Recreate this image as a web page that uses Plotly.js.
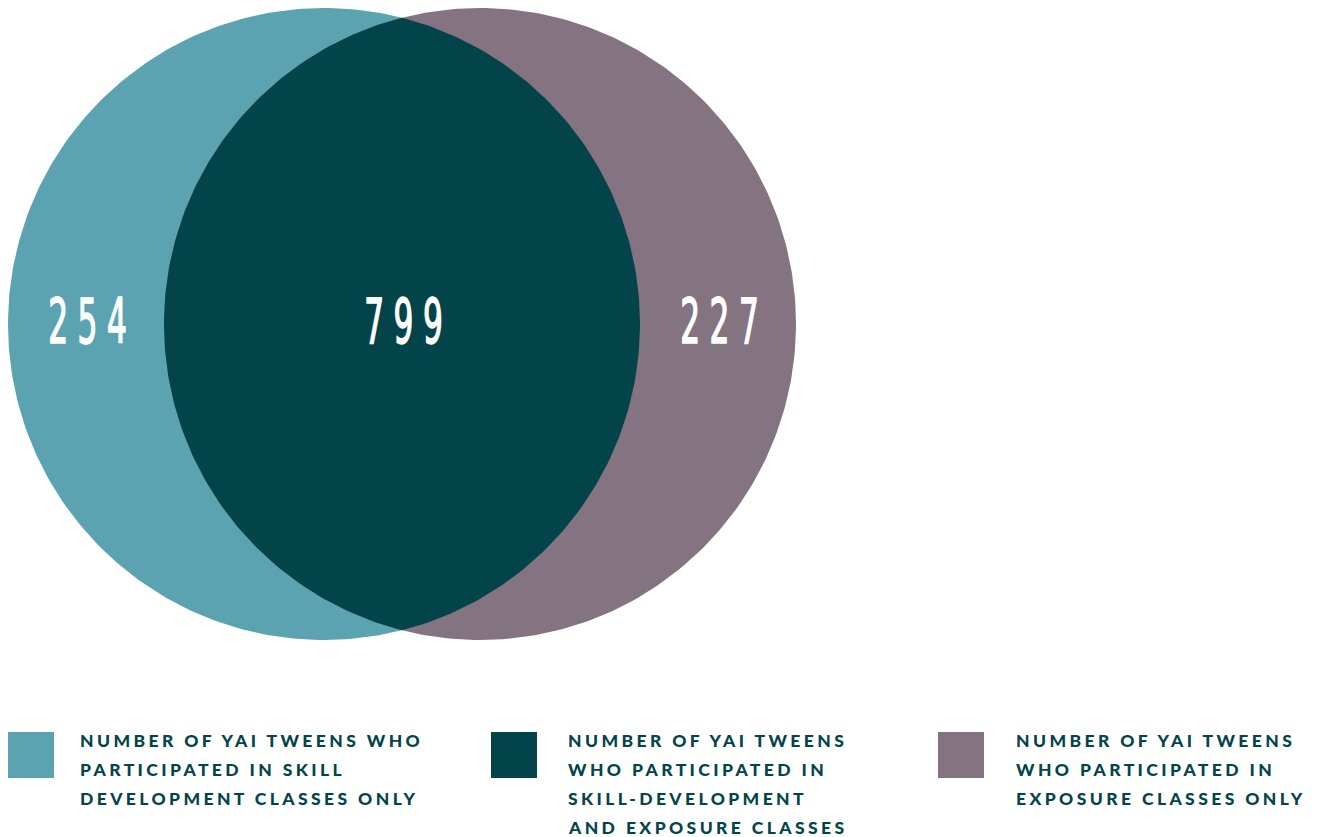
<!DOCTYPE html>
<html>
<head>
<meta charset="utf-8">
<script src="https://cdn.plot.ly/plotly-3.0.1.min.js"></script>
<style>
html,body{margin:0;padding:0;background:#fff;overflow:hidden;}
#chart{width:1322px;height:837px;}
</style>
</head>
<body>
<div id="chart"></div>
<script>
// ---- data ----
const categories = ["Skill development only", "Both", "Exposure only"];
const counts = [254, 799, 227];
const colors = ["#5BA3B0", "#02444A", "#847380"];
const legendLines = [
  ["NUMBER OF YAI TWEENS WHO", "PARTICIPATED IN SKILL", "DEVELOPMENT CLASSES ONLY"],
  ["NUMBER OF YAI TWEENS", "WHO PARTICIPATED IN", "SKILL-DEVELOPMENT", "AND EXPOSURE CLASSES"],
  ["NUMBER OF YAI TWEENS", "WHO PARTICIPATED IN", "EXPOSURE CLASSES ONLY"]
];

// ---- layout geometry (pixel-like units) ----
const R = 316, CY = 324, C1 = 324, C2 = 480;
const N = 360;

function arc(cx, cy, r, a0, a1, n) {
  const xs = [], ys = [];
  for (let i = 0; i <= n; i++) {
    const a = a0 + (a1 - a0) * i / n;
    xs.push(cx + r * Math.cos(a));
    ys.push(cy - r * Math.sin(a));
  }
  return {xs, ys};
}
const full1 = arc(C1, CY, R, 0, 2 * Math.PI, N);
const full2 = arc(C2, CY, R, 0, 2 * Math.PI, N);
const th = Math.acos(((C2 - C1) / 2) / R);
const lensA = arc(C1, CY, R, -th, th, 180);
const lensB = arc(C2, CY, R, Math.PI - th, Math.PI + th, 180);
const lensX = lensA.xs.concat(lensB.xs), lensY = lensA.ys.concat(lensB.ys);

const traces = [
  {x: full1.xs, y: full1.ys, type: "scatter", mode: "lines", fill: "toself",
   fillcolor: colors[0], line: {width: 0, color: colors[0]}, hoverinfo: "skip", name: categories[0]},
  {x: full2.xs, y: full2.ys, type: "scatter", mode: "lines", fill: "toself",
   fillcolor: colors[2], line: {width: 0, color: colors[2]}, hoverinfo: "skip", name: categories[2]},
  {x: lensX, y: lensY, type: "scatter", mode: "lines", fill: "toself",
   fillcolor: colors[1], line: {width: 0, color: colors[1]}, hoverinfo: "skip", name: categories[1]}
];

const labelX = [((C1 - R) + (C2 - R)) / 2, (C1 + C2) / 2, ((C1 + R) + (C2 + R)) / 2];
const annotations = [];
counts.forEach((v, i) => {
  annotations.push({x: labelX[i] + 6, y: CY - 3, xref: "x", yref: "y", text: String(v),
    showarrow: false, xanchor: "center", yanchor: "middle",
    font: {family: "'DejaVu Sans Condensed', 'DejaVu Sans', sans-serif", size: 62, color: "#ffffff", weight: 700}});
});

const legX = [8, 491, 938];
const legTextX = [78, 566, 1014];
const legTop = 732, sq = 46, pitch = 29;
const shapes = [];
legendLines.forEach((lines, i) => {
  shapes.push({type: "rect", xref: "x", yref: "y", x0: legX[i], x1: legX[i] + sq,
    y0: legTop, y1: legTop + sq, fillcolor: colors[i], line: {width: 0}});
  lines.forEach((t, j) => {
    annotations.push({x: legTextX[i], y: legTop + 8.5 + j * pitch, xref: "x", yref: "y", text: t,
      showarrow: false, xanchor: "left", yanchor: "middle", align: "left",
      font: {family: "Lato", size: 17.5, color: "#02444A", weight: 900}});
  });
});

const layout = {
  width: 1322, height: 837,
  margin: {l: 0, r: 0, t: 0, b: 0, pad: 0},
  paper_bgcolor: "#ffffff", plot_bgcolor: "#ffffff",
  showlegend: false,
  xaxis: {range: [0, 1322], visible: false, fixedrange: true},
  yaxis: {range: [837, 0], visible: false, fixedrange: true},
  shapes: shapes,
  annotations: annotations
};

Plotly.newPlot("chart", traces, layout, {staticPlot: true, displayModeBar: false}).then(() => {
  document.querySelectorAll(".annotation-text").forEach(el => {
    const fs = parseFloat(el.style.fontSize || "0");
    if (fs > 40) {
      el.style.letterSpacing = "17px";
      el.style.fontWeight = "400";
      el.style.stroke = "#ffffff";
      el.style.strokeWidth = "1.6px";
      // compress numbers horizontally around their anchor to mimic a condensed face
      const x = parseFloat(el.getAttribute("x") || "0");
      el.setAttribute("transform", "translate(" + x + ",0) scale(0.56,1) translate(" + (-x) + ",0)");
    } else {
      el.style.letterSpacing = "3.4px";
    }
  });
});
</script>
</body>
</html>
